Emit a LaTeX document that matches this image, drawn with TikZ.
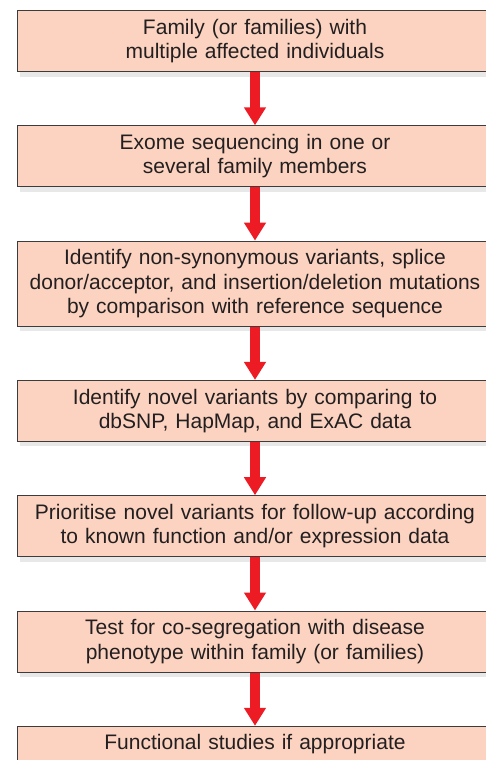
\documentclass[tikz,border=0pt]{standalone}
\usepackage{fontspec}
\setmainfont{Liberation Sans}
\usetikzlibrary{positioning,arrows.meta,shadows}
\definecolor{boxfill}{HTML}{FBD3C0}
\definecolor{boxline}{HTML}{3C3C3C}
\definecolor{boxtext}{HTML}{231F20}
\definecolor{flowred}{HTML}{ED1C24}
\begin{document}
\begin{tikzpicture}[
        x=1pt, y=1pt,
        node distance=53.3pt,
        stage box/.style={
            draw=boxline,
            line width=1pt,
            fill=boxfill,
            text=boxtext,
            align=center,
            text width=470pt,
            inner xsep=3pt,
            inner ysep=7pt,
            minimum height=61pt,
            font=\fontsize{21}{24.5}\selectfont,
            drop shadow={opacity=0.18, shadow xshift=3pt, shadow yshift=-5pt}
        },
        flow arrow/.style={
            draw=flowred,
            line width=10pt,
            -{Triangle[width=21pt,length=18pt]}
        }
    ]
        \useasboundingbox (0,0) rectangle (486,-760);
        \clip (0,0) rectangle (486,-760);

        \node[stage box] (family) at (255,-41)
            {Family (or families) with\\multiple affected individuals};
        \node[stage box, below=of family] (exome)
            {Exome sequencing in one or\\several family members};
        \node[stage box, below=of exome, minimum height=85pt] (identify)
            {Identify non-synonymous variants, splice\\donor/acceptor, and insertion/deletion mutations\\by comparison with reference sequence};
        \node[stage box, below=of identify] (novel)
            {Identify novel variants by comparing to\\dbSNP, HapMap, and ExAC data};
        \node[stage box, below=of novel] (prioritise)
            {Prioritise novel variants for follow-up according\\to known function and/or expression data};
        \node[stage box, below=of prioritise] (cosegregation)
            {Test for co-segregation with disease\\phenotype within family (or families)};
        \node[stage box, below=of cosegregation, minimum height=36pt] (functional)
            {Functional studies if appropriate};

        \draw[flow arrow] (family.south) -- (exome.north);
        \draw[flow arrow] (exome.south) -- (identify.north);
        \draw[flow arrow] (identify.south) -- (novel.north);
        \draw[flow arrow] (novel.south) -- (prioritise.north);
        \draw[flow arrow] (prioritise.south) -- (cosegregation.north);
        \draw[flow arrow] (cosegregation.south) -- (functional.north);
    \end{tikzpicture}
\end{document}
